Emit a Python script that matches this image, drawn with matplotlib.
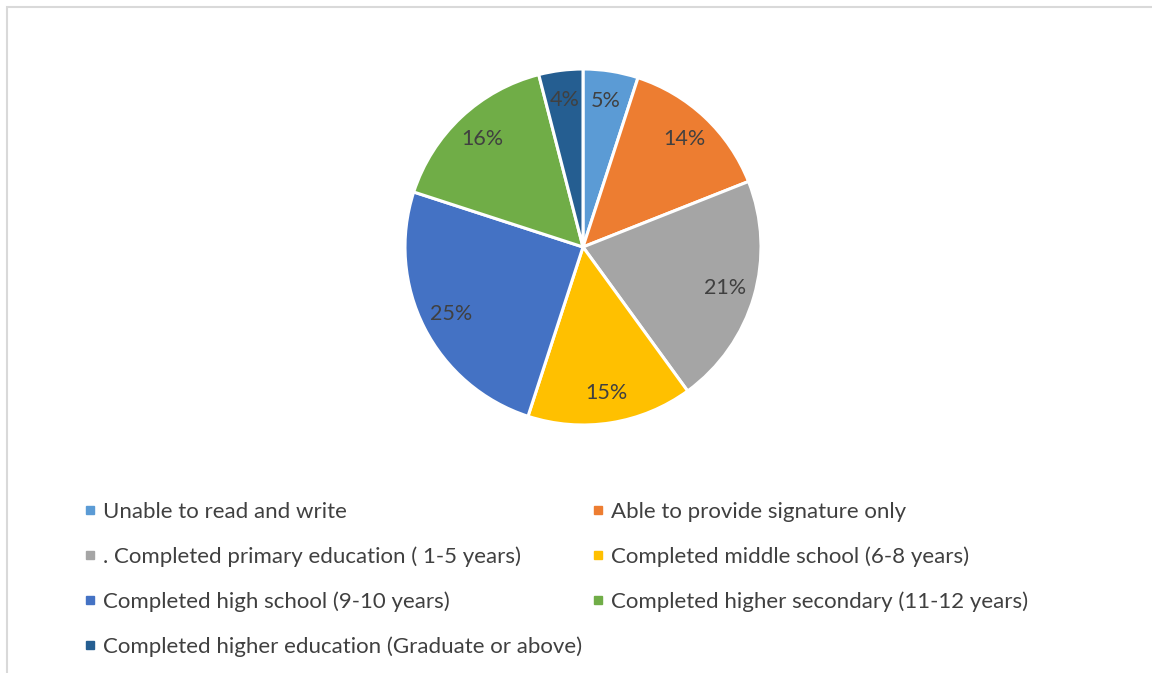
import matplotlib.pyplot as plt
from matplotlib.lines import Line2D
from matplotlib.patches import Rectangle

# education level shares
categories = ['Unable to read and write',
              'Able to provide signature only',
              '. Completed primary education ( 1-5 years)',
              'Completed middle school (6-8 years)',
              'Completed high school (9-10 years)',
              'Completed higher secondary (11-12 years)',
              'Completed higher education (Graduate or above)']
shares = [5, 14, 21, 15, 25, 16, 4]
colors = ['#5B9BD5', '#ED7D31', '#A5A5A5', '#FFC000', '#4472C4', '#70AD47', '#255E91']

plt.rcParams['font.family'] = ['Lato', 'DejaVu Sans']
W, H = 1152, 673
fig = plt.figure(figsize=(W / 100, H / 100), dpi=100)

# light grey chart border
fig.patches.append(Rectangle((7 / W, -0.1), 1.2, 1 - 7 / H + 0.1, transform=fig.transFigure,
                             fill=False, edgecolor='#d9d9d9', linewidth=1.5))

cx, cy, r = 583, 247, 178
ax = fig.add_axes([(cx - r) / W, (H - cy - r) / H, 2 * r / W, 2 * r / H])
wedges, texts, autotexts = ax.pie(shares, colors=colors, startangle=90, counterclock=False,
                                  autopct='%1.0f%%', pctdistance=0.83,
                                  wedgeprops=dict(edgecolor='white', linewidth=2.2),
                                  textprops=dict(color='#404040', fontsize=15.5))
ax.set_xlim(-1, 1)
ax.set_ylim(-1, 1)

# legend laid out row by row like the original (two columns)
order = [0, 2, 4, 6, 1, 3, 5]
handles = [Line2D([], [], marker='s', linestyle='', markersize=6.2, color=colors[i]) for i in order]
labels = [categories[i] for i in order]
fig.legend(handles, labels, ncol=2, loc='upper left', bbox_to_anchor=(73 / W, 1 - 491 / H),
           frameon=False, fontsize=16, labelcolor='#404040', handlelength=0.5,
           handletextpad=0.35, labelspacing=1.1, columnspacing=0.45, borderpad=0)

fig.savefig('out.png', dpi=100, facecolor='white')
